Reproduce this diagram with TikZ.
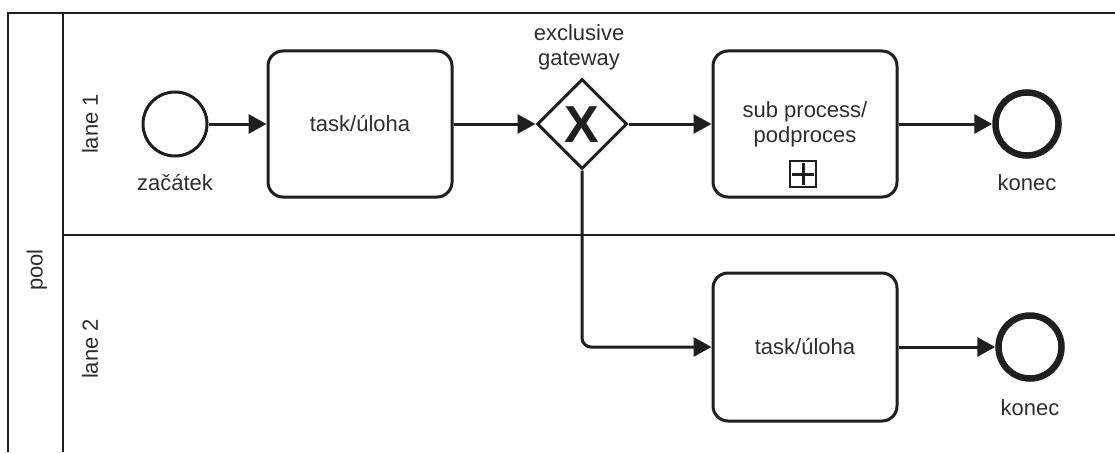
\documentclass[tikz,border=0pt]{standalone}
\usepackage{fontspec}
\setmainfont{Liberation Sans}
\usetikzlibrary{arrows.meta,shapes.geometric,positioning}

\tikzset{
  x=1pt, y=-1pt,
  ink/.style={draw=black!88},
  pline/.style={ink, line width=2.4pt},
  lbl/.style={font=\fontsize{22}{25}\selectfont, text=black!82, inner sep=0pt, align=center},
  taskbox/.style={ink, line width=3pt, rounded corners=15pt, minimum width=184pt,
    minimum height=146pt, inner sep=0pt, lbl},
  startev/.style={ink, circle, line width=3pt, minimum size=64pt, inner sep=0pt},
  endev/.style={ink, circle, line width=6.5pt, minimum size=63pt, inner sep=0pt},
  xgate/.style={ink, diamond, line width=3pt, minimum width=90pt, minimum height=90pt,
    inner sep=0pt, aspect=1},
  flow/.style={ink, line width=3pt, rounded corners=9pt,
    -{Triangle[length=18pt,width=19pt]}},
  marker/.style={black!88, line width=3pt},
}

\begin{document}
\begin{tikzpicture}
  \useasboundingbox (0,0) rectangle (1115,452);
  \fill[white] (0,0) rectangle (1115,452);

  % pool and lanes
  \coordinate (poolTL) at (8,13);
  \coordinate (poolTR) at (1115,13);
  \coordinate (poolBL) at (8,452);
  \coordinate (hdrT) at (63,13);
  \coordinate (hdrB) at (63,452);
  \coordinate (laneL) at (63,235);
  \coordinate (laneR) at (1115,235);
  \draw[pline] (poolBL) -- (poolTL) -- (poolTR);
  \draw[pline] (hdrT) -- (hdrB);
  \draw[pline] (laneL) -- (laneR);

  \node[lbl, rotate=90] (pool) at (37,270) {pool};
  \node[lbl, rotate=90] (lane1) at (90,124) {lane 1};
  \node[lbl, rotate=90] (lane2) at (90,349) {lane 2};

  % lane 1
  \node[startev] (start) at (175,124) {};
  \node[lbl] (startl) at (175,183) {začátek};

  \node[taskbox] (task1) at (360,124) {task/úloha};

  \node[xgate] (gw) at (582,124) {};
  \node[font=\fontsize{52}{52}\selectfont\bfseries, text=black!88, inner sep=0pt]
    (gwx) at (582,125) {X};
  \node[lbl] (gwl) at (579,47) {exclusive\\gateway};

  \node[taskbox] (sub) at (805,124) {};
  \node[lbl] (subl) at (805,124) {sub process/\\podproces};
  \node[draw=black!88, line width=1.6pt, minimum size=26pt, inner sep=0pt] (plus) at (803,174) {};
  \draw[marker] ([yshift=-3pt]plus.north) -- ([yshift=3pt]plus.south);
  \draw[marker] ([xshift=3pt]plus.west) -- ([xshift=-3pt]plus.east);

  \node[endev] (end1) at (1027,124) {};
  \node[lbl] (end1l) at (1027,183) {konec};

  % lane 2
  \node[taskbox, minimum height=148pt] (task2) at (805,347) {task/úloha};

  \node[endev] (end2) at (1030,347) {};
  \node[lbl] (end2l) at (1030,408) {konec};

  % sequence flows
  \draw[flow] (start) -- (task1);
  \draw[flow] (task1) -- (gw);
  \draw[flow] (gw) -- (sub);
  \draw[flow] (sub) -- (end1);
  \draw[flow] (gw.south) |- (task2.west);
  \draw[flow] (task2) -- (end2);
\end{tikzpicture}
\end{document}
